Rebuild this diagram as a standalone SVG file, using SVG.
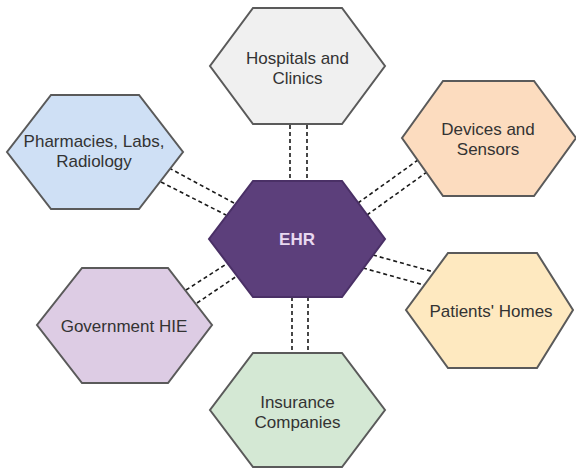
<svg xmlns="http://www.w3.org/2000/svg" width="576" height="470" viewBox="0 0 576 470">
<style>
.hex{stroke:#5a5a5a;stroke-width:2;stroke-linejoin:miter}
.t{font-family:"Liberation Sans",Arial,sans-serif;font-size:17px;fill:#333;text-anchor:middle}
.c{stroke:#1a1a1a;stroke-width:1.6;stroke-dasharray:4 3;fill:none}
</style>
<rect width="576" height="470" fill="#ffffff"/>
<g id="connectors">
<line class="c" x1="290" y1="125" x2="290" y2="181"/>
<line class="c" x1="307" y1="125" x2="307" y2="181"/>
<line class="c" x1="292" y1="297" x2="292" y2="353"/>
<line class="c" x1="308" y1="297" x2="308" y2="353"/>
<line class="c" x1="169" y1="168" x2="234" y2="203"/>
<line class="c" x1="161" y1="182" x2="226" y2="215"/>
<line class="c" x1="358" y1="203" x2="418" y2="160"/>
<line class="c" x1="367" y1="215" x2="427" y2="172"/>
<line class="c" x1="373" y1="255" x2="434" y2="272"/>
<line class="c" x1="363" y1="268" x2="424" y2="285"/>
<line class="c" x1="186" y1="290" x2="228" y2="263"/>
<line class="c" x1="197" y1="303" x2="237" y2="276"/>
</g>
<g id="hospitals">
<polygon class="hex" fill="#f0f0f0" points="253,8 342,8 385,66 342,124 253,124 210,66"/>
<text class="t" x="297.5" y="64">Hospitals and</text>
<text class="t" x="297.5" y="84">Clinics</text>
</g>
<g id="pharmacies">
<polygon class="hex" fill="#cfe0f5" points="51,95 139,95 183,152 139,209 51,209 7,152"/>
<text class="t" x="94" y="147">Pharmacies, Labs,</text>
<text class="t" x="94" y="167">Radiology</text>
</g>
<g id="devices">
<polygon class="hex" fill="#fcdcbf" points="443,81 534,81 576,138 534,196 443,196 402,138"/>
<text class="t" x="488" y="135">Devices and</text>
<text class="t" x="488" y="155">Sensors</text>
</g>
<g id="ehr">
<polygon fill="#5c3f7b" stroke="#4a3066" stroke-width="2" points="253,181 342,181 385,239 342,297 253,297 209,239"/>
<text x="297" y="245" font-family="Liberation Sans,Arial,sans-serif" font-size="17" font-weight="bold" fill="#e8d8f0" text-anchor="middle">EHR</text>
</g>
<g id="patients">
<polygon class="hex" fill="#fee9c0" points="448,253 537,253 573,310 537,368 448,368 406,310"/>
<text class="t" x="491" y="317">Patients' Homes</text>
</g>
<g id="government">
<polygon class="hex" fill="#ddcce4" points="82,268 168,268 212,325 168,383 82,383 37,325"/>
<text class="t" x="124" y="332">Government HIE</text>
</g>
<g id="insurance">
<polygon class="hex" fill="#d4e8d4" points="253,353 342,353 385,410 342,467 253,467 210,410"/>
<text class="t" x="297.5" y="408">Insurance</text>
<text class="t" x="297.5" y="428">Companies</text>
</g>
</svg>
